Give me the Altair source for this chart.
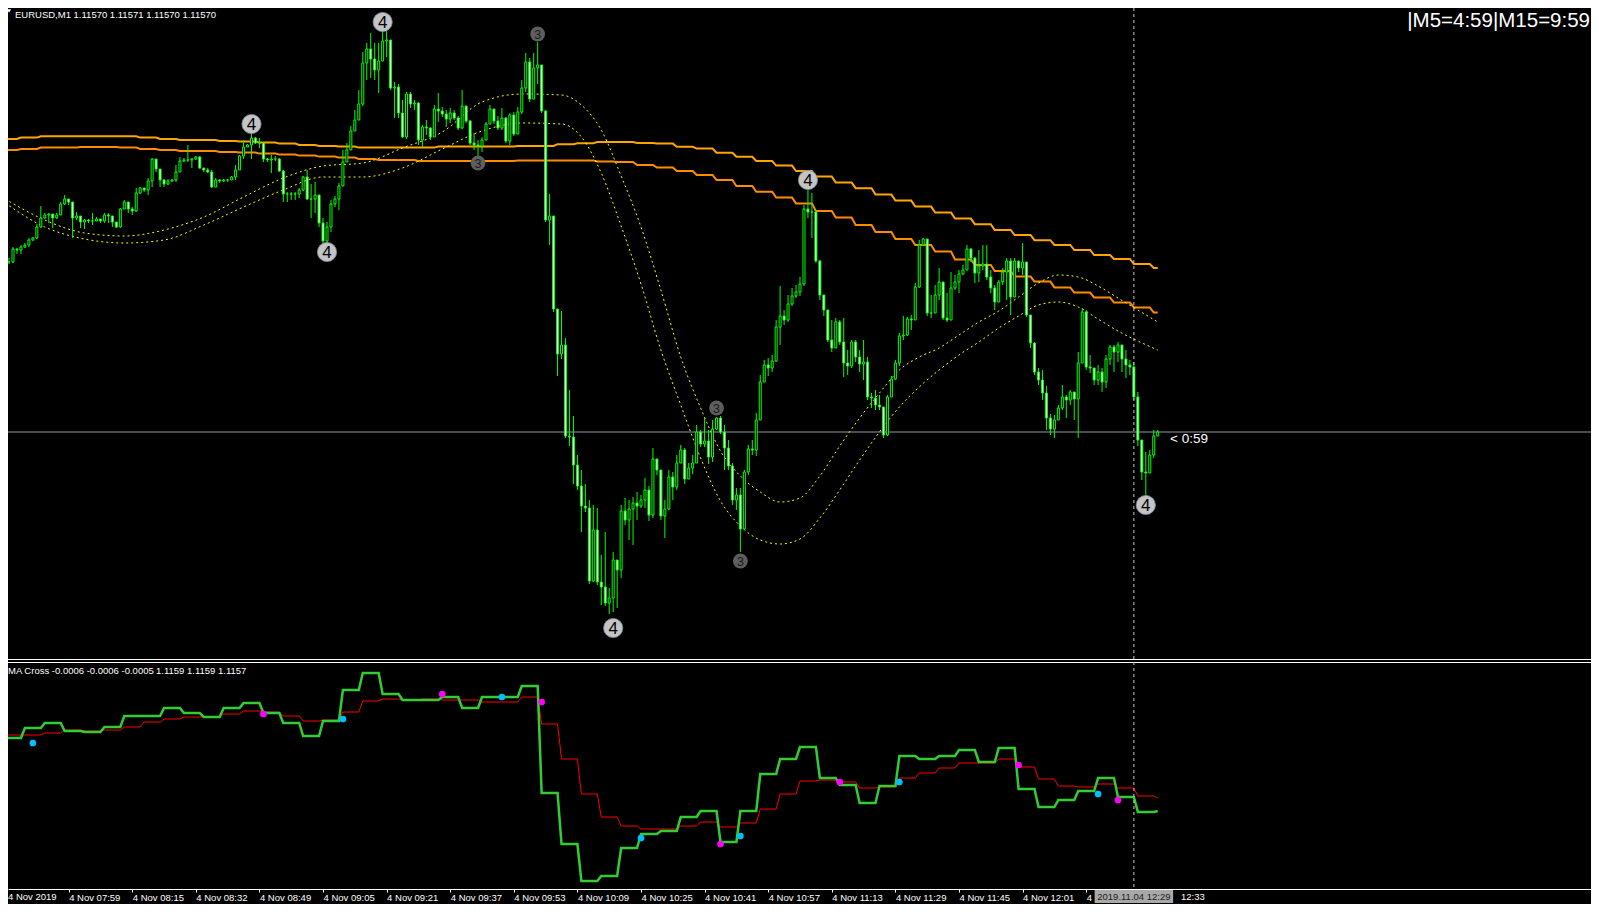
import altair as alt
import pandas as pd
import numpy as np

# ---------------- data (prices in points above 1.11000, 1 pt = 0.00001) ----------------
BASE = 1.11
first_open_pt = 659

close_pt = [
    655, 655, 661.5, 661, 662.5, 663.5, 666, 667, 672.5, 677,
    678.5, 679, 677, 678.5, 684, 686.5, 685, 677, 678, 675,
    676, 675.5, 675.5, 676.5, 675.5, 678.5, 678, 675, 672.5, 681.5,
    685, 681.5, 680.5, 689.5, 692, 691, 695.5, 706.5, 701.5, 696,
    694, 695.5, 696, 700, 705.5, 706, 706, 706.5, 707.5, 702,
    701, 700, 692.5, 696, 695.5, 696, 696, 697.5, 701, 708,
    712.5, 713.5, 717, 714.5, 714.5, 706.5, 706, 706.5, 706.5, 700.5,
    689, 689, 689, 689, 691, 697.5,
    686.5, 686.5, 688.5, 674.5, 665.5, 672.5, 684, 686.5, 693, 705,
    711, 720.5, 726, 734, 754.5, 761.5, 756.5, 751, 755.5, 765.5,
    766, 742, 742.5, 729.5, 717.5, 739, 734, 734.5, 716, 722.5,
    722, 717.5, 731.5, 730.5, 729, 726.5, 729.5, 727, 722, 733,
    725.5, 714.5, 713.5, 713, 716, 724, 731.5, 725.5, 722, 727,
    715.5, 728.5, 719, 730, 742, 755, 736.5, 752, 753.5, 730.5,
    676,
    678, 631.5, 609, 613.5, 568, 567.5, 553.5, 543, 533, 532,
    495.5, 521, 495, 492.5, 484.5, 487, 506, 501, 530.5, 526,
    531.5, 534.5, 533, 536, 541, 528.5, 556.5, 551, 528, 531.5,
    547.5, 542.5, 554.5, 561, 546.5, 552, 554.5, 570, 564, 565.5,
    557.5, 571.5, 577, 570, 562, 553, 536, 538.5, 521.5, 550,
    561.5, 561, 576, 595, 603.5, 602, 605.5, 622.5, 628, 626,
    634, 638, 640,
    644, 681.5, 680, 680, 655.5, 638.5, 631, 616, 612, 625,
    615, 604.5, 603, 615, 607.5, 604, 605, 587.5, 587, 583.5,
    582.5, 568.5, 587.5, 596.5, 604.5, 618, 618.5, 626.5, 626, 642.5,
    663.5, 666.5, 629.5, 629.5, 638.5, 645, 627, 626, 642, 645,
    649, 651, 661.5, 657, 649.5, 653, 654, 647.5, 642, 635,
    645, 650, 655.5, 637.5, 655.5, 652, 655, 628.5, 614.5, 600,
    596, 589.5, 577, 571.5, 576, 582, 587.5, 586, 590, 586.5,
    604.5, 630, 602.5, 602, 596, 600, 595, 606.5, 612.5, 610,
    613.5, 606.5, 603.5, 602.5, 587.5, 566, 550, 549.5, 558.5, 568,
    570,
]

high_pt = [
    661, 657, 662.5, 662, 663.5, 664.5, 667, 667.5, 674, 683,
    679.5, 679.5, 677.5, 679.5, 685, 688.5, 686, 683, 680, 675.5,
    676.5, 676.5, 679.5, 677.5, 676.5, 679.5, 679.5, 677, 673, 682,
    686, 684.5, 682.5, 692, 692.5, 692, 697, 707, 703, 701,
    696.5, 696.5, 696.5, 703.5, 707.5, 707, 713.5, 707, 708, 708,
    702, 702, 701, 697, 696.5, 696.5, 696.5, 698, 703.5, 708.5,
    716, 714, 719.5, 717.5, 717, 713, 707, 708.5, 708, 707,
    701, 690, 690, 690, 692, 698,
    701, 694, 695, 688.5, 677, 675, 686, 688, 694.5, 711,
    714.5, 723, 731, 741, 760, 764.5, 769.5, 764.5, 764.5, 771,
    770.5, 766, 745, 744, 736, 740, 740, 736, 735, 723.5,
    726, 722.5, 733.5, 739.5, 732.5, 731, 732, 731, 728, 741,
    732, 726, 719.5, 716, 717.5, 725, 733.5, 731.5, 728, 732,
    727.5, 729.5, 730, 732.5, 746, 759.5, 757, 759.5, 765, 743.5,
    731,
    689, 677, 631, 630.5, 617, 591, 578, 558.5, 551, 544,
    536, 533.5, 532, 508.5, 520, 492, 510, 506, 533.5, 537,
    536, 537.5, 540, 538.5, 547, 543, 562, 556, 548.5, 536,
    551, 550, 558.5, 563.5, 562, 554.5, 558.5, 573.5, 571, 577,
    571, 576, 577.5, 578, 573.5, 566, 554.5, 542, 542, 551,
    563.5, 566, 579.5, 598.5, 606, 607, 608.5, 626, 643, 631,
    638.5, 642, 643.5,
    647.5, 683.5, 691, 689.5, 681, 656, 638.5, 627, 626, 627,
    626, 627, 611, 616, 616, 611, 616, 607.5, 589.5, 591,
    588.5, 582.5, 588.5, 598, 606, 619.5, 628, 627.5, 628.5, 644.5,
    666, 667, 666, 638.5, 643.5, 652, 644.5, 639.5, 650, 648.5,
    651, 653.5, 663.5, 662, 657.5, 661, 663.5, 663.5, 651, 643.5,
    646, 652, 657, 657, 657, 655, 664.5, 654, 628, 615,
    602, 601, 593, 579, 578.5, 583.5, 593.5, 588.5, 591, 589.5,
    610, 632, 631, 608.5, 601, 603.5, 602, 608.5, 613.5, 613.5,
    615, 613.5, 611, 606, 605, 590, 566, 560, 561, 571,
    571,
]

low_pt = [
    654, 654, 654.5, 659, 659, 662, 662.5, 665.5, 666.5, 672,
    676.5, 674.5, 672, 676.5, 679.5, 683.5, 683.5, 667, 676, 672,
    671.5, 674.5, 673.5, 675.5, 674.5, 674.5, 674.5, 672.5, 672, 672,
    682.5, 679.5, 678.5, 680, 689, 690, 688.5, 692.5, 700, 692.5,
    692.5, 693.5, 695, 695, 700.5, 705, 705, 702, 706, 701.5,
    700, 699.5, 692, 693.5, 694.5, 695, 695, 696, 696, 701.5,
    706.5, 713, 706.5, 714, 712, 705, 705, 699.5, 705.5, 700,
    685, 685, 686, 686, 687, 690.5,
    686, 677, 679.5, 672.5, 663.5, 664.5, 670, 682.5, 681, 693.5,
    706.5, 712.5, 721, 726.5, 733, 746, 747, 746, 739.5, 759.5,
    757.5, 741, 727, 727, 717, 716.5, 732, 731, 713.5, 712.5,
    718.5, 716, 719.5, 725, 727.5, 722.5, 724.5, 726, 721, 721.5,
    724.5, 713.5, 711, 707.5, 710, 716.5, 724.5, 724, 721, 721,
    714.5, 713.5, 718, 719, 729, 740, 735, 738.5, 744, 729.5,
    675,
    663.5, 630, 598, 606.5, 567, 563, 544, 541, 520, 530,
    494, 495, 493.5, 483.5, 483, 479, 480, 482, 497, 523.5,
    516, 513.5, 526, 532, 532, 525.5, 527, 548.5, 526, 517,
    531, 536, 541, 558, 544, 547, 549, 558.5, 562.5, 562.5,
    554, 555, 571, 569, 551, 551, 533.5, 531, 510, 521,
    548.5, 558.5, 558, 576, 596, 598, 600, 605, 613.5, 623.5,
    625, 633, 637,
    638, 643, 677, 667, 654.5, 636, 628, 615, 610, 613.5,
    613.5, 597.5, 598.5, 602, 605, 600, 596, 586, 582, 581,
    581, 567, 568, 588, 596, 603, 616, 618, 621, 627,
    642, 663, 628, 627, 632.5, 636, 626, 625, 638, 641,
    639.5, 648.5, 652, 655, 644.5, 645, 651, 646, 639.5, 631,
    635, 643.5, 636, 628.5, 650, 650, 648.5, 627.5, 612, 598.5,
    593.5, 586, 571, 568.5, 567, 577, 581, 577, 583.5, 576,
    567, 605, 601, 599.5, 593.5, 593.5, 590, 592, 603.5, 600,
    605, 600, 597, 598.5, 586, 563, 546, 537.5, 556, 557,
    569,
]

# M5 moving averages (one value per 5-bar step), points
orange1_pt = [
    716.5, 717.2, 717.9, 717.9, 717.9, 717.9, 717.9, 717.2, 716.5, 716,
    716, 715.5, 715.2, 714.7, 714.2, 713.5, 713, 712.7, 712.2, 712.2,
    712.2, 712.2, 712.7, 712.7, 712.7, 712.7, 713, 713, 713.9, 714.4,
    715, 715, 714.5, 714.2, 712.6, 711.7, 709.6, 707.6, 705.5, 703.2,
    700.5, 697.7, 694.7, 691.9, 688.7, 685.7, 682.7, 679.7, 676.7, 673.9,
    671, 668.5, 665.9, 663.5, 661, 658.5, 656.5, 654, 652,
]
orange2_pt = [
    711, 711.5, 712.2, 712.2, 712.5, 712.5, 712.2, 711.5, 711, 710.5,
    710.5, 710, 709.7, 709.2, 708.7, 708.2, 707.7, 707.2, 706.5, 706,
    706, 705.5, 705.5, 705.5, 705.5, 705.5, 705.8, 705.8, 705.8, 705.8,
    705.3, 705, 703.5, 702.2, 700.5, 698.5, 696, 693, 690.1, 687.2,
    684.3, 680.5, 677.2, 673.5, 670, 666.5, 663.5, 660.2, 656.3, 653.5,
    650.5, 647.7, 645.2, 642.3, 639.7, 637.3, 634.7, 632.3, 629.7,
]

# smooth dotted MAs, read at these bars
yellow_bars = [0, 10, 20, 30, 40, 50, 60, 70, 80, 90, 100, 110, 120, 130, 140,
               145, 150, 155, 160, 165, 170, 175, 180, 185, 190, 195, 200, 205, 210,
               215, 220, 225, 230, 235, 240, 245, 250, 255, 260, 265, 270, 275, 280, 285, 290]
yellow1_pt = [686.5, 676, 669.5, 668, 671, 677.5, 687.5, 697, 703, 704.5, 712, 720, 735, 739, 738.5,
              733.5, 721, 698, 672.5, 641, 607.5, 582, 560.5, 548, 540, 535, 537, 548, 563,
              577, 589.5, 601, 607.5, 612, 618.5, 625, 630.5, 637.5, 644.5, 648.5, 647.5, 643, 637, 631, 625]
yellow2_pt = [684.5, 672.5, 666.5, 664.5, 666, 673.5, 682.5, 691, 697.5, 697.5, 702, 711.5, 720.5, 724.5, 724,
              717.5, 699.5, 673, 644, 611, 583.5, 557, 535.5, 523, 516, 514, 516.5, 527, 541,
              556, 570, 582.5, 592.5, 601, 608.5, 615, 622, 628, 633.5, 635, 632.5, 626.5, 620.5, 615.5, 611]

# MA Cross sub-window (one value per 5-bar step), points
macross_fast_pt = [
    679.5, 694.5, 702, 690, 688.5, 696, 712.5, 712.5, 724.5, 717,
    711, 724.5, 732, 717, 702, 682.5, 705, 751.5, 777, 745.5,
    736.5, 736.5, 741, 724.5, 741, 741, 757.5, 597, 520.5, 465,
    472.5, 514.5, 535.5, 540, 561, 570, 523.5, 570, 625.5, 648,
    666, 619.5, 609, 582, 607.5, 652.5, 648, 652.5, 661.5, 643.5,
    664.5, 603, 576, 586.5, 600, 619.5, 591, 568.5, 570,
]
macross_slow_pt = [
    684, 684, 687, 691.5, 690, 691.5, 696, 703.5, 708, 711,
    711, 715.5, 720, 718.5, 712.5, 705, 706.5, 718.5, 735, 738,
    736.5, 738, 736.5, 736.5, 733.5, 733.5, 741, 700.5, 648, 595.5,
    561, 547.5, 543, 543, 547.5, 553.5, 546, 552, 573, 595.5,
    615, 616.5, 613.5, 604.5, 606, 619.5, 627, 634.5, 642, 642,
    648, 636, 618, 607.5, 606, 610.5, 604.5, 592.5, 589.5,
]
cross_bar = [7, 65, 85, 110, 125, 135, 160, 180, 185, 210, 225, 255, 275, 280]
cross_pt = [672, 715.5, 708, 745.5, 741, 733.5, 529.5, 520.5, 532.5, 613.5, 613.5, 639, 595.5, 586.5]
cross_kind = ["up", "down", "up", "down", "up", "down", "up", "down", "up", "down", "up", "down", "up", "down"]

# swing labels
swing_bar = [62, 81, 95, 119, 134, 153, 179, 185, 202, 287]
swing_pt = [724, 660, 775, 704.5, 769, 472, 582, 505.5, 696, 533.5]
swing_label = ["4", "4", "4", "3", "3", "4", "3", "3", "4", "4"]

# time axis: one label every 16 bars; first one sits at the left edge,
# 12:17 is hidden under the crosshair box, 12:33 peeks out right of it
tick_bars = list(range(0, 289, 16))
tick_labels = ["", "4 Nov 07:59", "4 Nov 08:15", "4 Nov 08:32", "4 Nov 08:49",
               "4 Nov 09:05", "4 Nov 09:21", "4 Nov 09:37", "4 Nov 09:53", "4 Nov 10:09",
               "4 Nov 10:25", "4 Nov 10:41", "4 Nov 10:57", "4 Nov 11:13", "4 Nov 11:29",
               "4 Nov 11:45", "4 Nov 12:01", "4", ""]
first_tick_visible = "4 Nov 2019"
last_tick_visible = "12:33"

bid_pt = 570
crosshair_bar = 284
crosshair_label = "2019.11.04 12:29"

# ---------------- build frames ----------------
def price(v):
    return BASE + np.asarray(v, dtype=float) / 1e5

n = len(close_pt)
assert len(high_pt) == n and len(low_pt) == n, (len(close_pt), len(high_pt), len(low_pt))
cl = price(close_pt)
op = np.concatenate([[float(price(first_open_pt))], cl[:-1]])
hi = np.maximum.reduce([price(high_pt), op, cl])
lo = np.minimum.reduce([price(low_pt), op, cl])
candles = pd.DataFrame({"bar": np.arange(n), "open": op, "close": cl, "high": hi, "low": lo})

bars = np.arange(n)
ma_main = pd.DataFrame({
    "bar": bars,
    "o1": price([orange1_pt[(b + 1) // 5] for b in bars]),
    "o2": price([orange2_pt[(b + 1) // 5] for b in bars]),
})
yel = pd.DataFrame({"bar": yellow_bars, "y1": price(yellow1_pt), "y2": price(yellow2_pt)})
sub = pd.DataFrame({
    "bar": bars,
    "fast": price([macross_fast_pt[b // 5] for b in bars]),
    "slow": price([macross_slow_pt[b // 5] for b in bars]),
})
dots = pd.DataFrame({"bar": cross_bar, "v": price(cross_pt), "kind": cross_kind})
swings = pd.DataFrame({"bar": swing_bar, "v": price(swing_pt), "lab": swing_label})

# ---------------- geometry ----------------
W, H = 1583, 881
PX_PER_BAR = 4.0
X0_BAR = 2.0                      # bar at the left edge of the plot
MAIN_TOP_PT, MAIN_PX_PER_PT = 782, 2.0
SUB_TOP_PT, SUB_PX_PER_PT = 1774.5, 1 / 1.5
FONT = "Liberation Sans"
LABEL_Y = 884

xscale = alt.Scale(domain=[X0_BAR, X0_BAR + W / PX_PER_BAR], nice=False, zero=False)
label_expr = "[" + ",".join("'%s'" % t for t in tick_labels) + "][round(datum.value/16)]"
xaxis = alt.Axis(values=tick_bars, labelExpr=label_expr, labelAlign="left", labelBaseline="top",
                 labelPadding=0, labelColor="#FFFFFF", labelFont=FONT, labelFontSize=9.5,
                 tickColor="#FFFFFF", tickSize=3, domainColor="#FFFFFF", grid=False, title=None,
                 labelOverlap=False, labelBound=False, labelFlush=False)
main_scale = alt.Scale(domain=[float(price(MAIN_TOP_PT - H / MAIN_PX_PER_PT)), float(price(MAIN_TOP_PT))],
                       nice=False, zero=False)
sub_scale = alt.Scale(domain=[float(price(SUB_TOP_PT - H / SUB_PX_PER_PT)), float(price(SUB_TOP_PT))],
                      nice=False, zero=False)


def X(field="bar"):
    return alt.X(f"{field}:Q", scale=xscale, axis=xaxis)


def YM(field):
    return alt.Y(f"{field}:Q", scale=main_scale, axis=None)


def YS(field):
    return alt.Y(f"{field}:Q", scale=sub_scale, axis=None)


layers = []

# bid line
layers.append(alt.Chart(pd.DataFrame({"p": [float(price(bid_pt))]})).mark_rule(
    color="#8C9AAA", strokeWidth=1).encode(y=YM("p"), x=alt.value(0), x2=alt.value(W)))

# orange M5 MAs
layers.append(alt.Chart(ma_main).mark_line(color="#FFA500", strokeWidth=2, clip=True).encode(x=X(), y=YM("o1")))
layers.append(alt.Chart(ma_main).mark_line(color="#FF8C00", strokeWidth=2, clip=True).encode(x=X(), y=YM("o2")))

# dotted yellow MAs
for col in ["y1", "y2"]:
    layers.append(alt.Chart(yel).mark_line(color="#FFFF00", strokeWidth=1, strokeDash=[2, 3],
                                           interpolate="monotone", clip=True).encode(x=X(), y=YM(col)))

# candles
layers.append(alt.Chart(candles).mark_rule(color="#00FF00", strokeWidth=1, clip=True).encode(
    x=X(), y=YM("low"), y2=alt.Y2("high")))
layers.append(alt.Chart(candles).mark_bar(size=2, stroke="#00FF00", strokeWidth=1, clip=True).encode(
    x=X(), y=YM("open"), y2=alt.Y2("close"),
    fill=alt.condition("datum.open > datum.close", alt.value("#FFFFFF"), alt.value("#000000"))))

# swing labels
big = swings[swings.lab == "4"]
small = swings[swings.lab == "3"]
layers.append(alt.Chart(big).mark_point(shape="circle", filled=True, size=370, color="#C4C4C4",
                                        stroke="#7C8CA4", strokeWidth=0.8, opacity=1).encode(x=X(), y=YM("v")))
layers.append(alt.Chart(big).mark_text(font=FONT, fontSize=17, color="#000000", dy=1).encode(
    x=X(), y=YM("v"), text="lab:N"))
layers.append(alt.Chart(small).mark_point(shape="circle", filled=True, size=220, color="#5E5E5E",
                                          opacity=1).encode(x=X(), y=YM("v")))
layers.append(alt.Chart(small).mark_text(font=FONT, fontSize=12.5, color="#1A1A1A", dy=1).encode(
    x=X(), y=YM("v"), text="lab:N"))

# separator between windows
for yy in [651.5, 654.5]:
    layers.append(alt.Chart(pd.DataFrame({"a": [0]})).mark_rule(color="#FFFFFF", strokeWidth=1).encode(
        x=alt.value(0), x2=alt.value(W), y=alt.value(yy)))

# MA Cross window
layers.append(alt.Chart(sub).mark_line(color="#FF0000", strokeWidth=1, clip=True).encode(x=X(), y=YS("slow")))
layers.append(alt.Chart(sub).mark_line(color="#32CD32", strokeWidth=2.5, clip=True).encode(x=X(), y=YS("fast")))
layers.append(alt.Chart(dots).mark_point(shape="circle", filled=True, size=45, opacity=1).encode(
    x=X(), y=YS("v"),
    color=alt.Color("kind:N", scale=alt.Scale(domain=["up", "down"], range=["#00BFFF", "#FF00FF"]), legend=None)))

# crosshair
layers.append(alt.Chart(pd.DataFrame({"bar": [crosshair_bar]})).mark_rule(
    color="#C8C8C8", strokeWidth=1, strokeDash=[3, 3]).encode(x=X(), y=alt.value(0), y2=alt.value(H)))
box_half = 39.5 / PX_PER_BAR
layers.append(alt.Chart(pd.DataFrame({"bar": [crosshair_bar]})).transform_calculate(
    b0=f"datum.bar - {box_half}", b1=f"datum.bar + {box_half}").mark_rect(color="#A8A8A8").encode(
    x=alt.X("b0:Q", scale=xscale, axis=xaxis), x2="b1:Q", y=alt.value(882), y2=alt.value(895)))
layers.append(alt.Chart(pd.DataFrame({"bar": [crosshair_bar], "t": [crosshair_label]})).mark_text(
    font=FONT, fontSize=9.5, color="#202020", baseline="top").encode(
    x=X(), y=alt.value(LABEL_Y), text="t:N"))

# texts
def label(txt, x, y, size, align="left", color="#FFFFFF", baseline="middle"):
    return alt.Chart(pd.DataFrame({"t": [txt]})).mark_text(
        font=FONT, fontSize=size, align=align, baseline=baseline, color=color).encode(
        x=alt.value(x), y=alt.value(y), text="t:N")

layers.append(label(first_tick_visible, 0, LABEL_Y, 9.5, baseline="top"))
layers.append(label(last_tick_visible, 1173, LABEL_Y, 9.5, baseline="top"))
layers.append(alt.Chart(pd.DataFrame({"a": [0]})).mark_point(shape="triangle-down", filled=True, size=18,
                                                             color="#FFFFFF", opacity=1).encode(
    x=alt.value(1), y=alt.value(3)))
layers.append(label("EURUSD,M1  1.11570 1.11571 1.11570 1.11570", 7, 2, 9.5, baseline="top"))
layers.append(label("|M5=4:59|M15=9:59", 1582, 12.5, 20.5, align="right"))
layers.append(label("MA Cross -0.0006 -0.0006 -0.0005", 0, 663, 9.5))
layers.append(label("1.1159 1.1159 1.1157", 148, 663, 9.5))
layers.append(alt.Chart(pd.DataFrame({"p": [float(price(bid_pt))], "t": ["< 0:59"]})).mark_text(
    font=FONT, fontSize=13.5, align="left", baseline="middle", color="#FFFFFF", dy=7).encode(
    x=alt.value(1162), y=YM("p"), text="t:N"))

chart = alt.layer(*layers).resolve_scale(y="independent").properties(
    width=W, height=H, background="#000000",
    autosize=alt.AutoSizeParams(type="none"),
    padding={"left": 0, "top": 0, "right": 0, "bottom": 15}).configure_view(stroke=None)

chart.save("out.html", embed_options={"renderer": "svg", "actions": False})
